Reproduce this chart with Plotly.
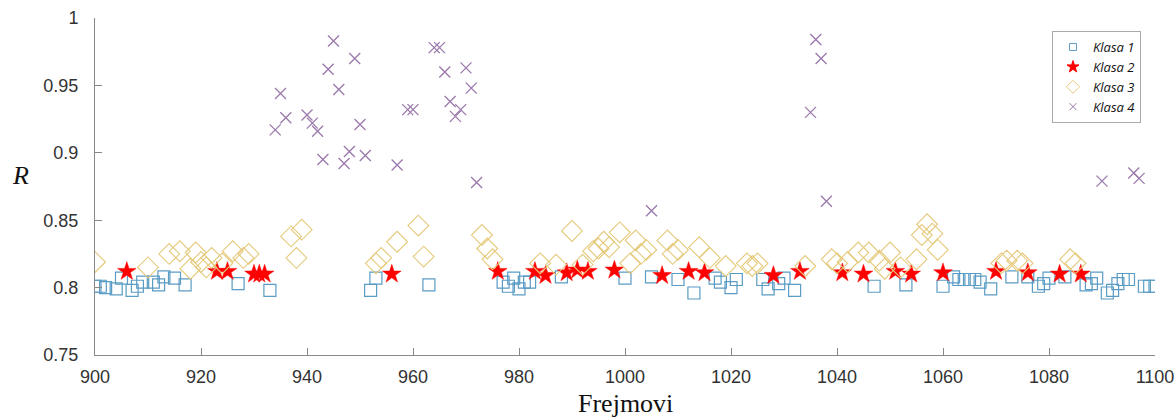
import plotly.graph_objects as go

# Klasa 1 (squares)
k1_x = [900, 901, 902, 904, 905, 907, 908, 909, 911, 912, 913, 915, 917, 927, 933,
        952, 953, 963,
        977, 978, 979, 980, 981, 982, 988, 1000, 1005, 1010, 1013, 1017, 1018, 1020, 1021,
        1026, 1027, 1029, 1030, 1032, 1047, 1053, 1060, 1062, 1063, 1064, 1065, 1066, 1067,
        1069, 1073, 1076, 1078, 1079, 1080, 1083, 1087, 1088, 1089, 1091, 1092, 1093, 1094,
        1095, 1098, 1099, 1100]
k1_y = [0.801, 0.801, 0.800, 0.799, 0.807, 0.798, 0.801, 0.804, 0.804, 0.802, 0.808, 0.807, 0.802, 0.803, 0.798,
        0.798, 0.807, 0.802,
        0.804, 0.801, 0.807, 0.799, 0.804, 0.804, 0.808, 0.807, 0.808, 0.806, 0.796, 0.807, 0.804, 0.800, 0.806,
        0.806, 0.799, 0.803, 0.807, 0.798, 0.801, 0.802, 0.801, 0.808, 0.806, 0.806, 0.806, 0.806, 0.804,
        0.799, 0.808, 0.808, 0.801, 0.803, 0.807, 0.808, 0.802, 0.803, 0.807, 0.796, 0.798, 0.803, 0.806,
        0.806, 0.801, 0.801, 0.801]

# Klasa 2 (stars)
k2_x = [906, 923, 925, 930, 931, 932, 956, 976, 983, 985, 989, 991, 993, 998, 1007, 1012,
        1015, 1028, 1033, 1041, 1045, 1051, 1054, 1060, 1070, 1076, 1082, 1086]
k2_y = [0.812, 0.812, 0.812, 0.810, 0.810, 0.810, 0.810, 0.812, 0.812, 0.809, 0.811, 0.813,
        0.812, 0.813, 0.809, 0.812, 0.811, 0.809, 0.812, 0.811, 0.810, 0.812, 0.810, 0.811,
        0.812, 0.811, 0.810, 0.810]

# Klasa 3 (diamonds)
k3_x = [900, 910, 914, 916, 918, 919, 920, 921, 922, 924, 926, 928, 929, 937, 938, 939,
        953, 954, 957, 961, 962, 973, 974, 975, 984, 987, 990, 992, 994, 995, 996, 997, 999,
        1001, 1002, 1003, 1004, 1008, 1009, 1010, 1014, 1016, 1019, 1023, 1024, 1025, 1034,
        1039, 1040, 1042, 1044, 1046, 1048, 1049, 1050, 1052, 1055, 1056, 1057, 1058, 1059,
        1071, 1072, 1074, 1075, 1084, 1085]
k3_y = [0.819, 0.815, 0.825, 0.827, 0.814, 0.826, 0.819, 0.815, 0.822, 0.818, 0.827, 0.822, 0.825, 0.838, 0.822, 0.843,
        0.818, 0.822, 0.834, 0.846, 0.823, 0.839, 0.829, 0.821, 0.818, 0.817, 0.842, 0.817, 0.827, 0.829, 0.834, 0.830, 0.841,
        0.818, 0.835, 0.825, 0.828, 0.835, 0.825, 0.828, 0.830, 0.822, 0.816, 0.818, 0.816, 0.818, 0.816,
        0.821, 0.818, 0.819, 0.826, 0.826, 0.820, 0.814, 0.826, 0.815, 0.821, 0.839, 0.847, 0.840, 0.828,
        0.818, 0.820, 0.820, 0.818, 0.821, 0.818]

# Klasa 4 (crosses)
k4_x = [934, 935, 936, 940, 941, 942, 943, 944, 945, 946, 947, 948, 949, 950, 951,
        957, 959, 960, 964, 965, 966, 967, 968, 969, 970, 971, 972,
        1005, 1035, 1036, 1037, 1038, 1090, 1096, 1097]
k4_y = [0.917, 0.944, 0.926, 0.928, 0.922, 0.916, 0.895, 0.962, 0.983, 0.947, 0.892, 0.901, 0.970, 0.921, 0.898,
        0.891, 0.932, 0.932, 0.978, 0.978, 0.960, 0.938, 0.927, 0.932, 0.963, 0.948, 0.878,
        0.857, 0.930, 0.984, 0.970, 0.864, 0.879, 0.885, 0.881]

class_names = ["Klasa 1", "Klasa 2", "Klasa 3", "Klasa 4"]

x_ticks = [900, 920, 940, 960, 980, 1000, 1020, 1040, 1060, 1080, 1100]
y_ticks = [0.75, 0.8, 0.85, 0.9, 0.95, 1.0]
y_tick_text = ["0.75", "0.8", "0.85", "0.9", "0.95", "1"]

W, H = 1175, 419
L, R, T, B = 95, 20, 18, 64
plot_w = W - L - R
plot_h = H - T - B
y0 = H - B  # pixel row of plot bottom

styles = [
    dict(symbol="square-open", size=12, color="#5a9cc4", lw=1.2),
    dict(symbol="star", size=14, color="#ff0000", lw=0.5),
    dict(symbol="diamond-open", size=16, color="#e5c97a", lw=1.1),
    dict(symbol="x-thin-open", size=11, color="#9a78ab", lw=1.3),
]
legend_sizes = [7, 9, 10, 7]
series = [(k1_x, k1_y), (k2_x, k2_y), (k3_x, k3_y), (k4_x, k4_y)]

fig = go.Figure()
for (xs, ys), st, name in zip(series, styles, class_names):
    fig.add_trace(go.Scatter(x=xs, y=ys, mode="markers", name=name, showlegend=False,
                             marker=dict(symbol=st["symbol"], size=st["size"], color=st["color"],
                                         line=dict(width=st["lw"], color=st["color"]))))
# legend entries (smaller symbols as in the reference legend)
for st, name, ls in zip(styles, class_names, legend_sizes):
    fig.add_trace(go.Scatter(x=[None], y=[None], mode="markers", name=name,
                             marker=dict(symbol=st["symbol"], size=ls, color=st["color"],
                                         line=dict(width=1, color=st["color"]))))

fig.update_layout(
    width=W, height=H,
    margin=dict(l=L, r=R, t=T, b=B, autoexpand=False),
    paper_bgcolor="white", plot_bgcolor="white",
    font=dict(family="Liberation Sans, Arial", size=18, color="#333333"),
    showlegend=True,
    legend=dict(x=(1052 - L) / plot_w, y=(y0 - 31) / plot_h, xanchor="left", yanchor="top",
                bgcolor="white", bordercolor="#aaaaaa", borderwidth=1,
                font=dict(family="Open Sans, Liberation Sans", size=13, color="#111111",
                          style="italic"),
                itemsizing="trace", itemwidth=30, tracegroupgap=0),
    xaxis=dict(range=[900, 1100], tickvals=x_ticks, ticks="inside", ticklen=7,
               tickcolor="#888888", showline=True, linecolor="#888888", linewidth=1,
               showgrid=False, zeroline=False, mirror=False, automargin=False,
               ticklabelstandoff=5),
    yaxis=dict(range=[0.75, 1.0], tickvals=y_ticks, ticktext=y_tick_text, ticks="inside",
               ticklen=7, tickcolor="#888888", showline=True, linecolor="#888888", linewidth=1,
               showgrid=False, zeroline=False, mirror=False, ticklabelstandoff=12,
               automargin=False),
    annotations=[
        dict(text="R", x=(20 - L) / plot_w, y=(y0 - 175) / plot_h, xref="paper", yref="paper",
             xanchor="center", yanchor="middle", showarrow=False,
             font=dict(family="Liberation Serif", size=26, color="#111111", style="italic")),
        dict(text="Frejmovi", x=(625 - L) / plot_w, y=(y0 - 403) / plot_h, xref="paper", yref="paper",
             xanchor="center", yanchor="middle", showarrow=False,
             font=dict(family="Liberation Serif", size=26, color="#111111")),
    ],
)

fig.write_html("out.html",
               config={"displayModeBar": False},
               post_script="document.body.style.margin='0';document.body.style.overflow='hidden';")
